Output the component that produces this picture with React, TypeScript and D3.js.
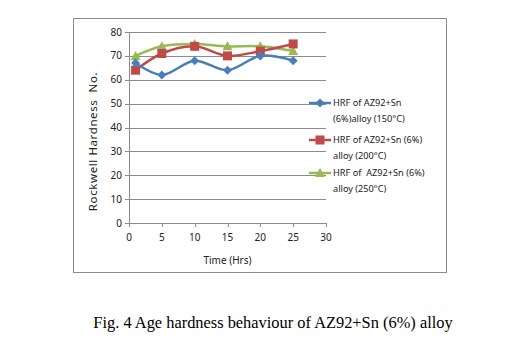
import React, { useRef, useEffect } from 'react';
import * as d3 from 'd3';

const hours = [1, 5, 10, 15, 20, 25];
const hrf150 = [67, 62, 68, 64, 70, 68];
const hrf200 = [64, 71, 74, 70, 72, 75];
const hrf250 = [70, 74, 75, 74, 74, 72];
const xTicks = [0, 5, 10, 15, 20, 25, 30];
const yTicks = [0, 10, 20, 30, 40, 50, 60, 70, 80];

const seriesList = [
  { name: ['HRF of AZ92+Sn', '(6%)alloy (150°C)'], values: hrf150, color: '#4A7EBB', marker: 'diamond' },
  { name: ['HRF of AZ92+Sn (6%)', 'alloy (200°C)'], values: hrf200, color: '#BE4B48', marker: 'square' },
  { name: ['HRF of  AZ92+Sn (6%)', 'alloy (250°C)'], values: hrf250, color: '#98B954', marker: 'triangle' },
];

const W = 514;
const H = 364;

export default function App() {
  const ref = useRef<SVGSVGElement>(null);

  useEffect(() => {
    const svg = d3.select(ref.current);
    svg.selectAll('*').remove();

    const font = 'Noto Sans, sans-serif';
    const x = d3.scaleLinear().domain([0, 30]).range([129, 326]);
    const y = d3.scaleLinear().domain([0, 80]).range([223, 32]);

    svg.append('rect').attr('width', W).attr('height', H).attr('fill', '#fff');

    // outer chart frame
    svg
      .append('rect')
      .attr('x', 73.5)
      .attr('y', 18.5)
      .attr('width', 373)
      .attr('height', 254)
      .attr('fill', 'none')
      .attr('stroke', '#8c8c8c');

    // gridlines
    svg
      .selectAll('.grid')
      .data(yTicks.filter((t) => t > 0))
      .enter()
      .append('line')
      .attr('x1', x(0))
      .attr('x2', x(30))
      .attr('y1', (d) => Math.round(y(d)) + 0.5)
      .attr('y2', (d) => Math.round(y(d)) + 0.5)
      .attr('stroke', '#8c8c8c');

    // axes
    const axisG = svg.append('g');
    axisG
      .append('line')
      .attr('x1', x(0) + 0.5)
      .attr('x2', x(0) + 0.5)
      .attr('y1', y(80))
      .attr('y2', y(0))
      .attr('stroke', '#8c8c8c');
    axisG
      .append('line')
      .attr('x1', x(0))
      .attr('x2', x(30))
      .attr('y1', Math.round(y(0)) + 0.5)
      .attr('y2', Math.round(y(0)) + 0.5)
      .attr('stroke', '#8c8c8c');

    axisG
      .selectAll('.ytick')
      .data(yTicks)
      .enter()
      .append('line')
      .attr('x1', x(0) - 4)
      .attr('x2', x(0))
      .attr('y1', (d) => Math.round(y(d)) + 0.5)
      .attr('y2', (d) => Math.round(y(d)) + 0.5)
      .attr('stroke', '#8c8c8c');
    axisG
      .selectAll('.xtick')
      .data(xTicks)
      .enter()
      .append('line')
      .attr('x1', (d) => Math.round(x(d)) + 0.5)
      .attr('x2', (d) => Math.round(x(d)) + 0.5)
      .attr('y1', y(0))
      .attr('y2', y(0) + 4)
      .attr('stroke', '#8c8c8c');

    axisG
      .selectAll('.ylab')
      .data(yTicks)
      .enter()
      .append('text')
      .attr('x', x(0) - 7)
      .attr('y', (d) => y(d))
      .attr('dy', '0.35em')
      .attr('text-anchor', 'end')
      .attr('font-family', font)
      .attr('font-size', 10)
      .attr('fill', '#222')
      .text((d) => d);
    axisG
      .selectAll('.xlab')
      .data(xTicks)
      .enter()
      .append('text')
      .attr('x', (d) => x(d))
      .attr('y', y(0) + 18)
      .attr('text-anchor', 'middle')
      .attr('font-family', font)
      .attr('font-size', 10)
      .attr('fill', '#222')
      .text((d) => d);

    svg
      .append('text')
      .attr('x', (x(0) + x(30)) / 2)
      .attr('y', 264)
      .attr('text-anchor', 'middle')
      .attr('font-family', font)
      .attr('font-size', 10)
      .attr('fill', '#222')
      .text('Time (Hrs)');
    svg
      .append('text')
      .attr('transform', `translate(97,${(y(0) + y(80)) / 2 + 14}) rotate(-90)`)
      .attr('text-anchor', 'middle')
      .attr('font-family', font)
      .attr('font-size', 11.5)
      .attr('letter-spacing', 0.6)
      .attr('fill', '#222')
      .attr('xml:space', 'preserve')
      .style('white-space', 'pre')
      .text('Rockwell Hardness  No.');

    const line = d3
      .line<number>()
      .x((_, i) => x(hours[i]))
      .y((d) => y(d))
      .curve(d3.curveCatmullRom.alpha(0.5));

    const drawMarker = (g: any, kind: string, cx: number, cy: number, color: string) => {
      if (kind === 'diamond') {
        g.append('path')
          .attr('d', `M${cx},${cy - 4.5}L${cx + 4.5},${cy}L${cx},${cy + 4.5}L${cx - 4.5},${cy}Z`)
          .attr('fill', color);
      } else if (kind === 'square') {
        g.append('rect')
          .attr('x', cx - 4.5)
          .attr('y', cy - 4.5)
          .attr('width', 9)
          .attr('height', 9)
          .attr('fill', color);
      } else {
        g.append('path')
          .attr('d', `M${cx},${cy - 5}L${cx + 5},${cy + 4}L${cx - 5},${cy + 4}Z`)
          .attr('fill', color);
      }
    };

    // draw green first so red and blue sit on top as in the picture
    [...seriesList].reverse().forEach((s) => {
      svg
        .append('path')
        .attr('d', line(s.values))
        .attr('fill', 'none')
        .attr('stroke', s.color)
        .attr('stroke-width', 2.5);
      const g = svg.append('g');
      s.values.forEach((v, i) => drawMarker(g, s.marker, x(hours[i]), y(v), s.color));
    });

    // legend
    const legendTop = [103, 140, 173];
    seriesList.forEach((s, i) => {
      const ly = legendTop[i];
      const g = svg.append('g');
      g.append('line')
        .attr('x1', 309)
        .attr('x2', 331)
        .attr('y1', ly)
        .attr('y2', ly)
        .attr('stroke', s.color)
        .attr('stroke-width', 2.5);
      drawMarker(g, s.marker, 320, ly, s.color);
      s.name.forEach((t, j) => {
        g.append('text')
          .attr('x', 333)
          .attr('y', ly + j * 16)
          .attr('dy', '0.35em')
          .attr('font-family', font)
          .attr('font-size', 9.2)
          .attr('fill', '#222')
          .attr('xml:space', 'preserve')
          .style('white-space', 'pre')
          .text(t);
      });
    });

    svg
      .append('text')
      .attr('x', 273)
      .attr('y', 328)
      .attr('text-anchor', 'middle')
      .attr('font-family', 'Liberation Serif, Times New Roman, serif')
      .attr('font-size', 16.4)
      .attr('fill', '#000')
      .text('Fig. 4 Age hardness behaviour of AZ92+Sn (6%) alloy');
  }, []);

  return (
    <svg
      ref={ref}
      width={W}
      height={H}
      style={{ position: 'absolute', left: 0, top: 0, display: 'block' }}
    />
  );
}
